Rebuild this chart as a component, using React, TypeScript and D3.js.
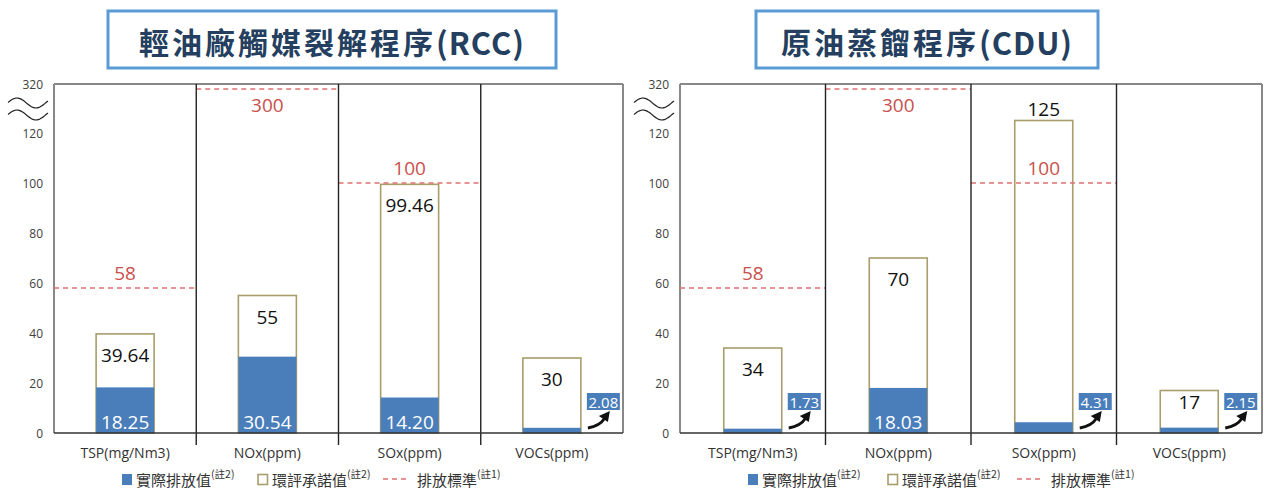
import React from "react";
import * as d3 from "d3";

// Pollutant categories shared by both process charts
const categories = ["TSP(mg/Nm3)", "NOx(ppm)", "SOx(ppm)", "VOCs(ppm)"];

// 輕油廠觸媒裂解程序 (RCC)
const rccActual = [18.25, 30.54, 14.2, 2.08];
const rccCommitted = [39.64, 55, 99.46, 30];
const rccStandard = [58, 300, 100, null];

// 原油蒸餾程序 (CDU)
const cduActual = [1.73, 18.03, 4.31, 2.15];
const cduCommitted = [34, 70, 125, 17];
const cduStandard = [58, 300, 100, null];

// Axis: linear up to the break, compressed above it
const yTicks = [0, 20, 40, 60, 80, 100, 120, 320];
const axisBreak = 120;

const BLUE = "#4a7ebb";
const TAN = "#a89d6c";
const RED_LINE = "#e07070";
const RED_TEXT = "#c9504d";
const TITLE_BLUE = "#5b9bd5";
const TITLE_TEXT = "#243f60";
const FONT = "'Open Sans', 'Noto Sans CJK TC', sans-serif";
const CJK = "'Noto Sans CJK TC', 'Open Sans', sans-serif";

const TOP = 84;
const BOTTOM = 433;

const y = d3
  .scaleLinear()
  .domain([0, 125, 300, 320])
  .range([BOTTOM, 120.5, 89, 84]);

const fmtValue = (v: number) => (Number.isInteger(v) ? String(v) : v.toFixed(2));

type ChartProps = {
  left: number;
  right: number;
  titleCjk: string;
  titleCode: string;
  titleBox: [number, number];
  actual: number[];
  committed: number[];
  standard: (number | null)[];
  legendGap: number;
};

function Chart({ left, right, titleCjk, titleCode, titleBox, actual, committed, standard, legendGap }: ChartProps) {
  const x = d3.scaleBand<string>().domain(categories).range([left, right]).paddingInner(0).paddingOuter(0);
  const bw = x.bandwidth();
  const barW = 58;
  const wave = (yc: number) => {
    const x0 = left - 46;
    const pts: [number, number][] = d3.range(0, 41).map((i) => [x0 + i, yc - 5 * Math.sin((i / 40) * Math.PI * 2 * 1.05 + 0.1)]);
    return d3.line().curve(d3.curveBasis)(pts) || "";
  };
  const [tx0, tx1] = titleBox;
  const legendY = 479;
  return (
    <g>
      {/* title */}
      <rect x={tx0} y={11} width={tx1 - tx0} height={57} fill="#fff" stroke={TITLE_BLUE} strokeWidth={3} />
      <text
        x={(tx0 + tx1) / 2}
        y={41}
        textAnchor="middle"
        dominantBaseline="central"
        fontFamily={CJK}
        fontWeight={700}
        fontSize={30}
        fill={TITLE_TEXT}
      >
        <tspan letterSpacing={3}>{titleCjk}</tspan>
        <tspan letterSpacing={1} fontSize={31}>{titleCode}</tspan>
      </text>

      {/* y tick labels */}
      {yTicks.map((t) => (
        <text key={t} x={left - 11} y={y(t)} textAnchor="end" dominantBaseline="central" fontFamily={FONT} fontSize={12} fill="#404040">
          {t}
        </text>
      ))}
      <path d={wave(103)} fill="none" stroke="#222" strokeWidth={1.2} />
      <path d={wave(115)} fill="none" stroke="#222" strokeWidth={1.2} />

      {/* plot frame */}
      <line x1={left} x2={right} y1={TOP} y2={TOP} stroke="#888" strokeWidth={2} />
      <line x1={left} x2={left} y1={TOP} y2={BOTTOM} stroke="#888" strokeWidth={2} />
      <line x1={right} x2={right} y1={TOP} y2={BOTTOM} stroke="#888" strokeWidth={2} />

      {categories.map((c, i) => {
        const bx = (x(c) as number) + bw / 2;
        const std = standard[i];
        const commit = committed[i];
        const act = actual[i];
        const cTop = y(commit);
        const aTop = y(act);
        const cH = BOTTOM - cTop;
        const commitLabelY = commit > axisBreak ? cTop - 12 : cTop + Math.min(21, cH * 0.28);
        const small = act < 10;
        const bRight = bx + barW / 2;
        return (
          <g key={c}>
            <rect x={bx - barW / 2} y={cTop} width={barW} height={cH} fill="#fff" stroke={TAN} strokeWidth={1.6} />
            <rect x={bx - barW / 2} y={aTop} width={barW} height={BOTTOM - aTop} fill={BLUE} />
            <text x={bx} y={commitLabelY} textAnchor="middle" dominantBaseline="central" fontFamily={FONT} fontSize={19} fill="#111">
              {fmtValue(commit)}
            </text>
            {small ? (
              <g>
                <rect x={bRight + 6} y={393} width={33} height={17} fill={BLUE} />
                <text x={bRight + 22.5} y={402} textAnchor="middle" dominantBaseline="central" fontFamily={FONT} fontSize={15} fill="#fff">
                  {act.toFixed(2)}
                </text>
                <path
                  d={`M${bRight + 7},${428} Q${bRight + 19},${426} ${bRight + 24},${418}`}
                  fill="none"
                  stroke="#111"
                  strokeWidth={2.8}
                />
                <path
                  d={`M${bRight + 29},${411} L${bRight + 18},${416} L${bRight + 27},${422} Z`}
                  fill="#111"
                />
              </g>
            ) : (
              <text x={bx} y={422} textAnchor="middle" dominantBaseline="central" fontFamily={FONT} fontSize={19} fill="#fff">
                {act.toFixed(2)}
              </text>
            )}
            {std !== null && (
              <g>
                <line
                  x1={x(c) as number}
                  x2={(x(c) as number) + bw}
                  y1={y(std)}
                  y2={y(std)}
                  stroke={RED_LINE}
                  strokeWidth={1.6}
                  strokeDasharray="5,4"
                />
                <text
                  x={bx}
                  y={std > axisBreak ? y(std) + 16 : y(std) - 15}
                  textAnchor="middle"
                  dominantBaseline="central"
                  fontFamily={FONT}
                  fontSize={19}
                  fill={RED_TEXT}
                >
                  {std}
                </text>
              </g>
            )}
            <text x={bx} y={452} textAnchor="middle" dominantBaseline="central" fontFamily={FONT} fontSize={14} fill="#333">
              {c}
            </text>
          </g>
        );
      })}

      {/* category separators */}
      {categories.slice(1).map((c) => (
        <line key={c} x1={x(c) as number} x2={x(c) as number} y1={TOP} y2={445} stroke="#222" strokeWidth={1.4} />
      ))}
      <line x1={left} x2={right} y1={BOTTOM} y2={BOTTOM} stroke="#333" strokeWidth={1.4} />

      {/* legend */}
      <g fontFamily={CJK} fontSize={15} fill="#333">
        <rect x={left + 68} y={legendY - 5} width={10} height={11} fill={BLUE} />
        <text x={left + 82} y={legendY} dominantBaseline="central">
          實際排放值
          <tspan fontSize={10.5} dy={-6}>(註2)</tspan>
        </text>
        <rect x={left + 204 + legendGap} y={legendY - 4.5} width={9.5} height={10} fill="#fff" stroke={TAN} strokeWidth={1.6} />
        <text x={left + 218 + legendGap} y={legendY} dominantBaseline="central">
          環評承諾值
          <tspan fontSize={10.5} dy={-6}>(註2)</tspan>
        </text>
        <line
          x1={left + 329 + legendGap * 2}
          x2={left + 352 + legendGap * 2}
          y1={legendY}
          y2={legendY}
          stroke={RED_LINE}
          strokeWidth={1.6}
          strokeDasharray="5,4"
        />
        <text x={left + 363 + legendGap * 2} y={legendY} dominantBaseline="central">
          排放標準
          <tspan fontSize={10.5} dy={-6}>(註1)</tspan>
        </text>
      </g>
    </g>
  );
}

export default function App() {
  return (
    <svg
      width={1264}
      height={490}
      viewBox="0 0 1264 490"
      style={{ position: "absolute", left: 0, top: 0, background: "#fff" }}
    >
      <rect width={1264} height={490} fill="#fff" />
      <Chart
        left={54}
        right={623}
        titleCjk="輕油廠觸媒裂解程序"
        titleCode="(RCC)"
        titleBox={[108, 556]}
        actual={rccActual}
        committed={rccCommitted}
        standard={rccStandard}
        legendGap={0}
      />
      <Chart
        left={680}
        right={1262}
        titleCjk="原油蒸餾程序"
        titleCode="(CDU)"
        titleBox={[756, 1098]}
        actual={cduActual}
        committed={cduCommitted}
        standard={cduStandard}
        legendGap={4}
      />
    </svg>
  );
}
